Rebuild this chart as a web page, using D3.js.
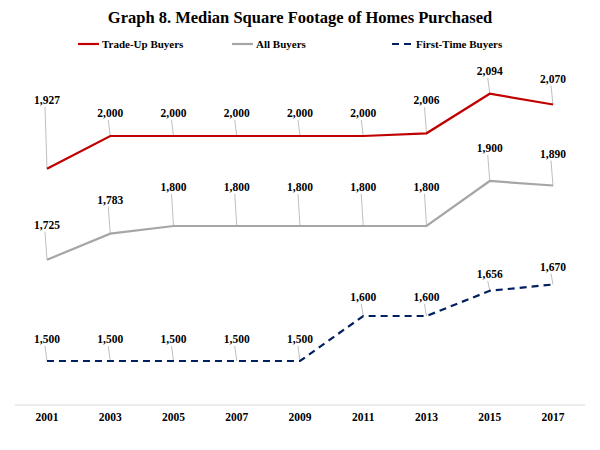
<!DOCTYPE html><html><head><meta charset="utf-8"><script src="https://cdn.jsdelivr.net/npm/d3@7"></script>
<style>body{margin:0;background:#fff}text{font-family:"Liberation Serif","Times New Roman",serif;font-weight:bold}</style></head><body><svg id="c" width="600" height="450"></svg><script>
const years=["2001","2003","2005","2007","2009","2011","2013","2015","2017"];
const tradeUp=[1927,2000,2000,2000,2000,2000,2006,2094,2070];
const allBuyers=[1725,1783,1800,1800,1800,1800,1800,1900,1890];
const firstTime=[1500,1500,1500,1500,1500,1600,1600,1656,1670];
const tradeUpLabelLift=[68,22,22,22,22,22,32,22,25];
const allLabelLift=[34,33,38,38,38,38,38,32,31];
const firstLabelLift=[21,21,21,21,21,18,18,16,17];
const svg=d3.select("#c");
const x=d3.scalePoint().domain(years).range([47,553]);
const y=d3.scaleLinear().domain([1500,2000]).range([361,136]);
svg.append("text").attr("x",300).attr("y",23).attr("text-anchor","middle").attr("font-size",16.5).text("Graph 8. Median Square Footage of Homes Purchased");
const series=[
 {name:"Trade-Up Buyers",v:tradeUp,lift:tradeUpLabelLift,c:"#c00000",d:null,lx:78},
 {name:"All Buyers",v:allBuyers,lift:allLabelLift,c:"#a6a6a6",d:null,lx:232},
 {name:"First-Time Buyers",v:firstTime,lift:firstLabelLift,c:"#002060",d:"7,5",lx:392}];
series.forEach(s=>{
 const g=svg.append("g");
 g.append("line").attr("x1",s.lx).attr("x2",s.lx+21).attr("y1",44).attr("y2",44).attr("stroke",s.c).attr("stroke-width",2.2).attr("stroke-dasharray",s.d);
 g.append("text").attr("x",s.lx+24).attr("y",48).attr("font-size",11).text(s.name);
});
svg.append("line").attr("x1",15).attr("x2",585).attr("y1",405).attr("y2",405).attr("stroke","#d9d9d9");
years.forEach(yr=>svg.append("text").attr("x",x(yr)).attr("y",421).attr("text-anchor","middle").attr("font-size",11.5).text(yr));
const fmt=d3.format(",");
series.forEach(s=>{
 s.v.forEach((v,i)=>{
  const px=x(years[i]),py=y(v),ly=py-s.lift[i];
  svg.append("line").attr("x1",px).attr("y1",py).attr("x2",px-2).attr("y2",ly+6).attr("stroke","#bfbfbf").attr("stroke-width",1);
 });
 svg.append("path").datum(s.v).attr("fill","none").attr("stroke",s.c).attr("stroke-width",2.2).attr("stroke-dasharray",s.d)
  .attr("d",d3.line().x((d,i)=>x(years[i])).y(d=>y(d)));
 s.v.forEach((v,i)=>{
  const px=x(years[i]),py=y(v),ly=py-s.lift[i];
  svg.append("text").attr("x",px).attr("y",ly+3).attr("text-anchor","middle").attr("font-size",11.5).text(fmt(v));
 });
});
</script></body></html>
